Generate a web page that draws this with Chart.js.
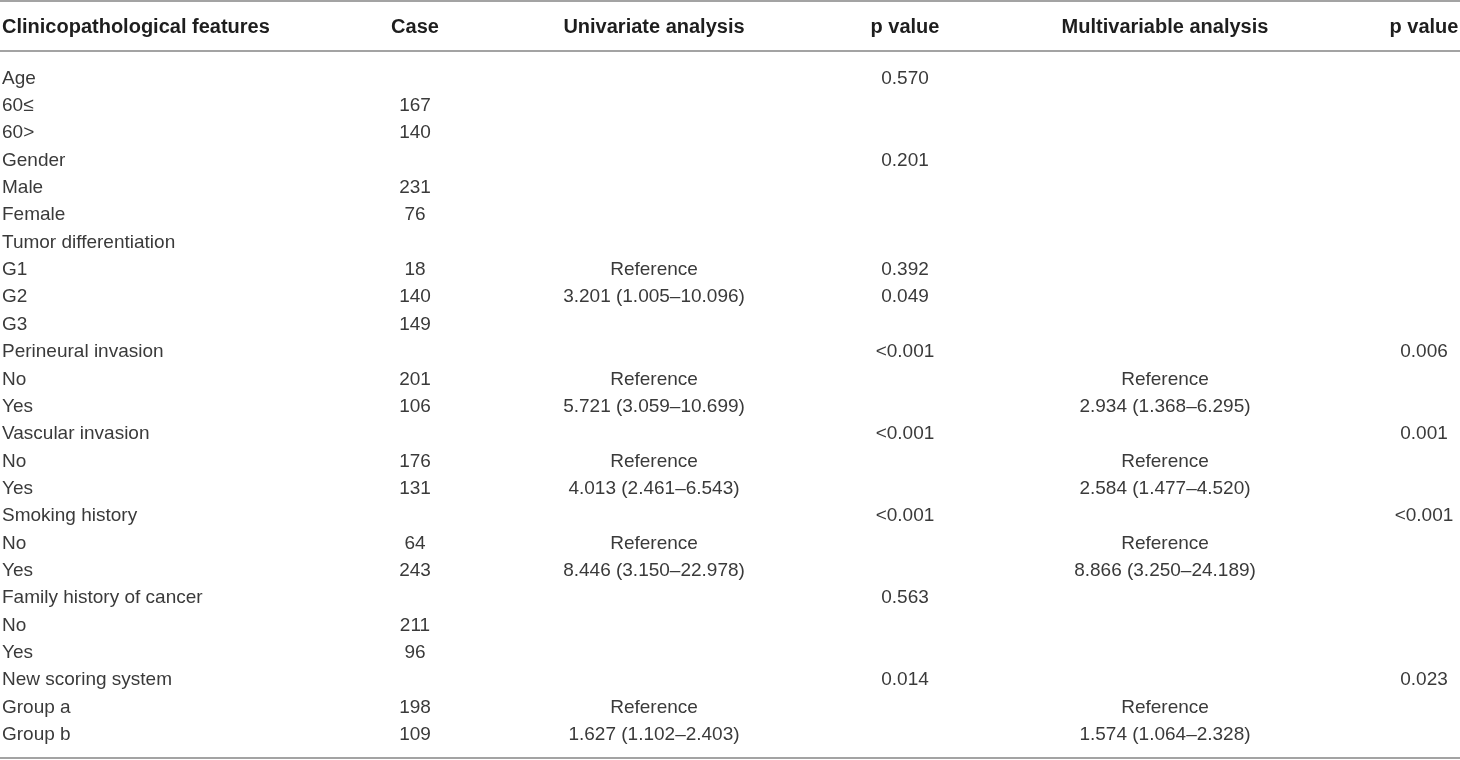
<!DOCTYPE html>
<html>
<head>
<meta charset="utf-8">
<title>Clinicopathological features</title>
<script src="https://cdn.jsdelivr.net/npm/chart.js@4/dist/chart.umd.min.js"></script>
<style>
  html, body { margin: 0; padding: 0; background: #fff; }
  #wrap { width: 1460px; height: 760px; }
</style>
</head>
<body>
<div id="wrap"><canvas id="tableChart" width="1460" height="760"></canvas></div>
<script>
// table content, one array per column
const headers = ["Clinicopathological features", "Case", "Univariate analysis", "p value", "Multivariable analysis", "p value"];

const features = [
  "Age", "60\u2264", "60>", "Gender", "Male", "Female", "Tumor differentiation",
  "G1", "G2", "G3", "Perineural invasion", "No", "Yes", "Vascular invasion", "No", "Yes",
  "Smoking history", "No", "Yes", "Family history of cancer", "No", "Yes",
  "New scoring system", "Group a", "Group b"
];

const cases = [
  "", "167", "140", "", "231", "76", "",
  "18", "140", "149", "", "201", "106", "", "176", "131",
  "", "64", "243", "", "211", "96",
  "", "198", "109"
];

const univariate = [
  "", "", "", "", "", "", "",
  "Reference", "3.201 (1.005\u201310.096)", "", "", "Reference", "5.721 (3.059\u201310.699)", "", "Reference", "4.013 (2.461\u20136.543)",
  "", "Reference", "8.446 (3.150\u201322.978)", "", "", "",
  "", "Reference", "1.627 (1.102\u20132.403)"
];

const pUnivariate = [
  "0.570", "", "", "0.201", "", "", "",
  "0.392", "0.049", "", "<0.001", "", "", "<0.001", "", "",
  "<0.001", "", "", "0.563", "", "",
  "0.014", "", ""
];

const multivariable = [
  "", "", "", "", "", "", "",
  "", "", "", "", "Reference", "2.934 (1.368\u20136.295)", "", "Reference", "2.584 (1.477\u20134.520)",
  "", "Reference", "8.866 (3.250\u201324.189)", "", "", "",
  "", "Reference", "1.574 (1.064\u20132.328)"
];

const pMultivariable = [
  "", "", "", "", "", "", "",
  "", "", "", "0.006", "", "", "0.001", "", "",
  "<0.001", "", "", "", "", "",
  "0.023", "", ""
];

const columns = [features, cases, univariate, pUnivariate, multivariable, pMultivariable];

// layout (pixel anchors on the x scale, row units on the y scale)
const colX = [2, 415, 654, 905, 1165, 1424];
const colAlign = ["left", "center", "center", "center", "center", "center"];
const headerRow = -0.85;
const ruleRows = [-1.75, 0.05, 25.93];

const datasets = columns.map((col, c) => ({
  label: headers[c],
  data: col.map((txt, i) => ({ x: colX[c], y: i + 1, text: txt })).filter(d => d.text !== ""),
  align: colAlign[c],
  bold: false,
  pointRadius: 0,
  showLine: false
}));

datasets.push({
  label: "header",
  data: headers.map((txt, c) => ({ x: colX[c], y: headerRow, text: txt, align: colAlign[c] })),
  bold: true,
  pointRadius: 0,
  showLine: false
});

const cellText = {
  id: "cellText",
  beforeDatasetsDraw(chart) {
    const { ctx, chartArea, scales } = chart;
    ctx.save();
    ctx.strokeStyle = "#a3a3a3";
    ctx.lineWidth = 2;
    ruleRows.forEach(r => {
      const y = Math.round(scales.y.getPixelForValue(r));
      ctx.beginPath();
      ctx.moveTo(chartArea.left, y);
      ctx.lineTo(chartArea.right, y);
      ctx.stroke();
    });
    ctx.restore();
  },
  afterDatasetsDraw(chart) {
    const ctx = chart.ctx;
    ctx.save();
    ctx.textBaseline = "middle";
    chart.data.datasets.forEach((ds, di) => {
      const meta = chart.getDatasetMeta(di);
      ctx.font = ds.bold ? "bold 20px 'Liberation Sans', Arial, sans-serif"
                         : "19px 'Liberation Sans', Arial, sans-serif";
      ctx.fillStyle = ds.bold ? "#1e1e1e" : "#3a3a3a";
      meta.data.forEach((pt, i) => {
        const d = ds.data[i];
        ctx.textAlign = d.align || ds.align;
        ctx.fillText(d.text, pt.x, pt.y + 2);
      });
    });
    ctx.restore();
  }
};

new Chart(document.getElementById("tableChart").getContext("2d"), {
  type: "scatter",
  data: { datasets },
  options: {
    responsive: false,
    animation: false,
    layout: { padding: 0 },
    scales: {
      x: { type: "linear", display: false, min: 0, max: 1460 },
      y: { type: "linear", display: false, reverse: true, min: -1.8, max: 26 }
    },
    plugins: {
      legend: { display: false },
      tooltip: { enabled: false }
    }
  },
  plugins: [cellText]
});
</script>
</body>
</html>
